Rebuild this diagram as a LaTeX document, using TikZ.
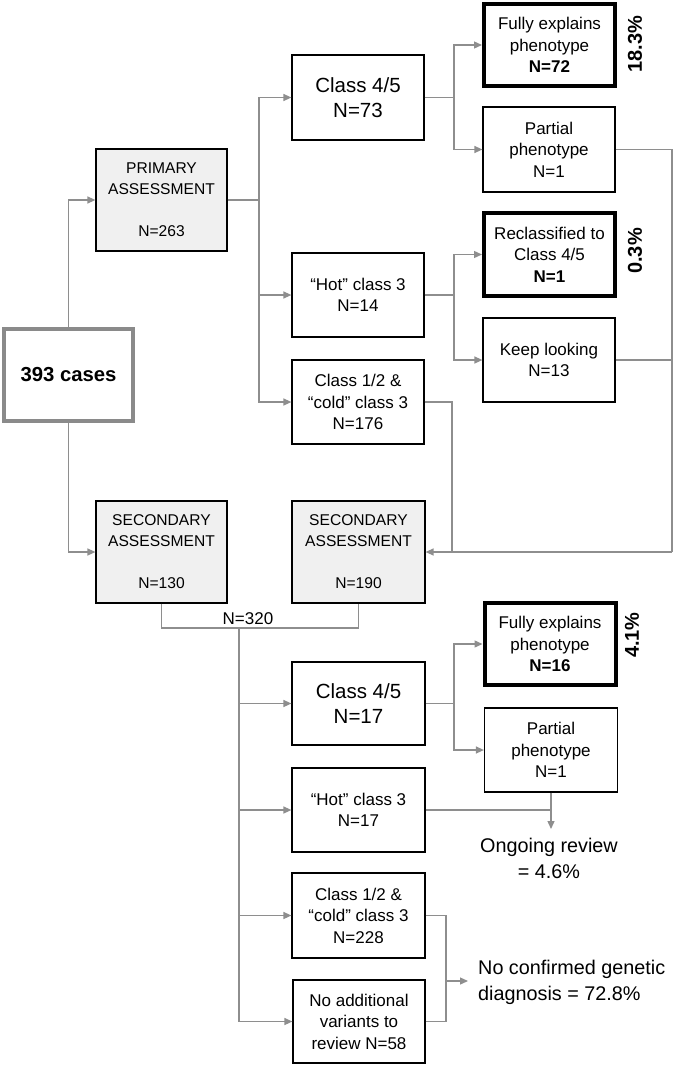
\documentclass[tikz,border=0pt]{standalone}
\usepackage{fontspec}
\setmainfont{Liberation Sans}
\usetikzlibrary{arrows.meta}
\definecolor{lgray}{HTML}{8E8E8E}
\definecolor{bfill}{HTML}{F0F0F0}
\definecolor{cgray}{HTML}{8A8A8A}
\newcommand{\fs}[2]{\fontsize{#1}{#2}\selectfont}
\tikzset{
  box/.style={draw=black, line width=1.2pt, fill=white, align=center, inner sep=0pt, minimum width=132pt, minimum height=84pt, font=\fs{17}{21.5}},
  bigbox/.style={box, font=\fs{20.5}{25}},
  thickbox/.style={box, line width=4pt, minimum width=131pt, minimum height=82pt},
  assess/.style={box, fill=bfill, minimum width=131pt, minimum height=102pt, font=\fs{15.6}{21}},
  line/.style={draw=lgray, line width=1.3pt},
  conn/.style={line, -{Triangle[length=8pt,width=7pt]}, lgray},
  pct/.style={font=\bfseries\fs{20}{24}, rotate=90, inner sep=0pt},
  free/.style={inner sep=0pt, font=\fs{19.8}{26}}
}
\begin{document}
\begin{tikzpicture}[x=1pt,y=-1pt]
\useasboundingbox (0,0) rectangle (674,1065);
% nodes
\node[box, draw=cgray, line width=4pt, minimum width=129pt, minimum height=92pt, font=\bfseries\fs{20.3}{24}] (cases) at (68.5,375) {393 cases};
\node[assess] (prim) at (161.5,200) {PRIMARY\\ASSESSMENT\\[21pt]N=263};
\node[assess] (sec1) at (161.5,552) {SECONDARY\\ASSESSMENT\\[21pt]N=130};
\node[assess, minimum width=133pt] (sec2) at (358.5,552) {SECONDARY\\ASSESSMENT\\[21pt]N=190};
\node[bigbox, minimum height=85pt] (c45a) at (358,97.5) {Class 4/5\\N=73};
\node[box] (hot1) at (358,295) {“Hot” class 3\\N=14};
\node[box] (cold1) at (358,402) {Class 1/2 \&\\“cold” class 3\\N=176};
\node[thickbox] (fully1) at (549.5,45) {Fully explains\\phenotype\\\textbf{N=72}};
\node[box, minimum height=85pt] (partial1) at (549,149.5) {Partial\\phenotype\\N=1};
\node[thickbox, minimum height=83pt] (reclass) at (549.5,254.5) {Reclassified to\\Class 4/5\\\textbf{N=1}};
\node[box] (keep) at (549,360) {Keep looking\\N=13};
\node[pct] (p1) at (635,44) {18.3\%};
\node[pct] (p2) at (635,251) {0.3\%};
\node[bigbox, minimum width=133pt, minimum height=83pt] (c45b) at (358.5,703.5) {Class 4/5\\N=17};
\node[box, minimum width=133pt] (hot2) at (358.5,810) {“Hot” class 3\\N=17};
\node[box, minimum width=133pt, minimum height=85pt] (cold2) at (358.5,915.5) {Class 1/2 \&\\“cold” class 3\\N=228};
\node[box, minimum height=83pt] (noadd) at (359,1021.5) {No additional\\variants to\\review N=58};
\node[thickbox] (fully2) at (550,644) {Fully explains\\phenotype\\\textbf{N=16}};
\node[box, minimum width=133pt] (partial2) at (551,750) {Partial\\phenotype\\N=1};
\node[pct] (p3) at (632,635) {4.1\%};
\node[free, anchor=north, align=center] (ongo) at (549,838) {Ongoing review\\= 4.6\%};
\node[free, anchor=west, align=left] (nocon) at (478,982) {No confirmed genetic\\diagnosis = 72.8\%};
\node[inner sep=0pt, font=\fs{17}{20}] (n320) at (248,619) {N=320};
% junction coordinates
\coordinate (pj) at (259,200);
\coordinate (aj) at (454,97.5);
\coordinate (hj) at (454,295);
\coordinate (rr) at (672,552);
\coordinate (cj) at (452,552);
\coordinate (t0) at (239,628);
\coordinate (bj) at (454,703.5);
\coordinate (otip) at (551,829);
\coordinate (nj) at (446,981);
\coordinate (ntip) at (468,981);
% connectors
\draw[conn] (cases.north) |- (prim.west);
\draw[conn] (cases.south) |- (sec1.west);
\draw[line] (prim.east) -- (pj);
\draw[conn] (pj) |- (c45a.west);
\draw[conn] (pj) |- (hot1.west);
\draw[conn] (pj) |- (cold1.west);
\draw[line] (c45a.east) -- (aj);
\draw[conn] (aj) |- (fully1.west);
\draw[conn] (aj) |- (partial1.west);
\draw[line] (hot1.east) -- (hj);
\draw[conn] (hj) |- (reclass.west);
\draw[conn] (hj) |- (keep.west);
\draw[line] (partial1.east) -| (rr);
\draw[line] (keep.east) -| (rr);
\draw[line] (cold1.east) -| (cj);
\draw[conn] (rr) -- (sec2.east);
\draw[line] (sec1.south) |- (t0) -| (sec2.south);
\draw[conn] (t0) |- (c45b.west);
\draw[conn] (t0) |- (hot2.west);
\draw[conn] (t0) |- (cold2.west);
\draw[conn] (t0) |- (noadd.west);
\draw[line] (c45b.east) -- (bj);
\draw[conn] (bj) |- (fully2.west);
\draw[conn] (bj) |- (partial2.west);
\draw[line] (hot2.east) -- (hot2.east -| partial2.south);
\draw[conn] (partial2.south) -- (otip);
\draw[line] (cold2.east) -| (nj);
\draw[line] (noadd.east) -| (nj);
\draw[conn] (nj) -- (ntip);
\end{tikzpicture}
\end{document}
